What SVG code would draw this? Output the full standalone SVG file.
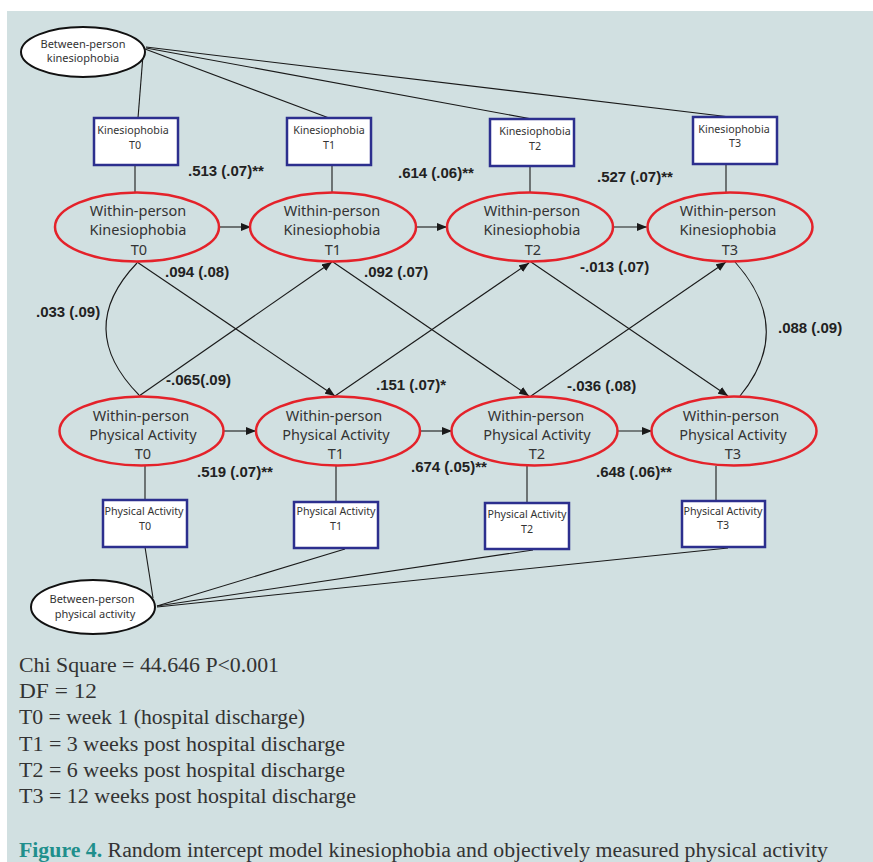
<svg xmlns="http://www.w3.org/2000/svg" width="873" height="862" viewBox="0 0 873 862">
  <style>
    .panel { fill: #d1e0e1; }
    .latent { fill: none; stroke: #e4222a; stroke-width: 2.5; }
    .between { fill: #ffffff; stroke: #111111; stroke-width: 2; }
    .obs { fill: #ffffff; stroke: #2c2f8e; stroke-width: 2.5; }
    .lbl { font-family: "Noto Sans", "Open Sans", sans-serif; fill: #333333; text-anchor: middle; }
    .big { font-size: 14.5px; }
    .small { font-size: 10.7px; }
    .coef { font-family: "Liberation Sans", Arial, sans-serif; font-weight: bold; font-size: 15px; fill: #222222; }
    .note { font-family: "Liberation Serif", "Times New Roman", serif; font-size: 20px; fill: #333333; }
    .edge { fill: none; stroke: #1a1a1a; stroke-width: 1.1; }
  </style>
  <defs>
    <marker id="arrow" viewBox="0 0 10 8" refX="10" refY="4" markerWidth="10" markerHeight="8" markerUnits="userSpaceOnUse" orient="auto">
      <path d="M0,0 L10,4 L0,8 Z" fill="#1a1a1a"/>
    </marker>
  </defs>

  <rect class="panel" x="7" y="11" width="866" height="851"/>

  <!-- connectors -->
  <g id="connectors">
    <!-- between-person kinesiophobia loadings -->
    <line class="edge" x1="143" y1="55" x2="138" y2="118"/>
    <line class="edge" x1="145" y1="49" x2="329" y2="118"/>
    <line class="edge" x1="146" y1="48" x2="532" y2="119"/>
    <line class="edge" x1="146" y1="47" x2="730" y2="117"/>
    <!-- kinesiophobia boxes to within-person factors -->
    <line class="edge" x1="135" y1="165" x2="135" y2="192"/>
    <line class="edge" x1="332" y1="165" x2="332" y2="192"/>
    <line class="edge" x1="530" y1="166" x2="530" y2="192"/>
    <line class="edge" x1="726" y1="164" x2="726" y2="192"/>
    <!-- autoregressive paths, kinesiophobia -->
    <line class="edge" x1="219" y1="227" x2="251" y2="227" marker-end="url(#arrow)"/>
    <line class="edge" x1="416" y1="227" x2="447" y2="227" marker-end="url(#arrow)"/>
    <line class="edge" x1="613" y1="227" x2="647" y2="227" marker-end="url(#arrow)"/>
    <!-- autoregressive paths, physical activity -->
    <line class="edge" x1="224" y1="431" x2="256" y2="431" marker-end="url(#arrow)"/>
    <line class="edge" x1="420" y1="431" x2="452" y2="431" marker-end="url(#arrow)"/>
    <line class="edge" x1="617" y1="431" x2="652" y2="431" marker-end="url(#arrow)"/>
    <!-- cross-lagged paths -->
    <line class="edge" x1="137" y1="262" x2="335" y2="396" marker-end="url(#arrow)"/>
    <line class="edge" x1="139" y1="396" x2="332" y2="262" marker-end="url(#arrow)"/>
    <line class="edge" x1="333" y1="262" x2="529" y2="396" marker-end="url(#arrow)"/>
    <line class="edge" x1="335" y1="396" x2="529" y2="263" marker-end="url(#arrow)"/>
    <line class="edge" x1="531" y1="262" x2="728" y2="396" marker-end="url(#arrow)"/>
    <line class="edge" x1="531" y1="396" x2="726" y2="262" marker-end="url(#arrow)"/>
    <!-- within-time covariances -->
    <path class="edge" d="M137,263 Q74,329 139,395"/>
    <path class="edge" d="M735,262 Q795,329 740,396"/>
    <!-- physical activity factors to boxes -->
    <line class="edge" x1="145" y1="466" x2="145" y2="500"/>
    <line class="edge" x1="336" y1="466" x2="336" y2="502"/>
    <line class="edge" x1="527" y1="466" x2="527" y2="503"/>
    <line class="edge" x1="716" y1="466" x2="716" y2="501"/>
    <!-- between-person physical activity loadings -->
    <line class="edge" x1="153" y1="598" x2="145" y2="547"/>
    <line class="edge" x1="157" y1="606" x2="345" y2="549"/>
    <line class="edge" x1="157" y1="606" x2="533" y2="550"/>
    <line class="edge" x1="157" y1="607" x2="728" y2="548"/>
  </g>

  <!-- between-person kinesiophobia -->
  <g id="between-kinesiophobia">
    <ellipse class="between" cx="83" cy="52" rx="62" ry="25"/>
    <text class="lbl" style="font-size:11px" x="83" y="48">Between-person</text>
    <text class="lbl" style="font-size:11px" x="83" y="62">kinesiophobia</text>
  </g>

  <!-- observed kinesiophobia -->
  <g id="kin-obs-t0">
    <rect class="obs" x="94" y="118" width="84" height="47"/>
    <text class="lbl small" x="133" y="134">Kinesiophobia</text>
    <text class="lbl small" x="135" y="149">T0</text>
  </g>
  <g id="kin-obs-t1">
    <rect class="obs" x="287" y="118" width="84" height="47"/>
    <text class="lbl small" x="329" y="134">Kinesiophobia</text>
    <text class="lbl small" x="329" y="149">T1</text>
  </g>
  <g id="kin-obs-t2">
    <rect class="obs" x="490" y="119" width="84" height="47"/>
    <text class="lbl small" x="535" y="135">Kinesiophobia</text>
    <text class="lbl small" x="535" y="150">T2</text>
  </g>
  <g id="kin-obs-t3">
    <rect class="obs" x="693" y="117" width="84" height="47"/>
    <text class="lbl small" x="734" y="133">Kinesiophobia</text>
    <text class="lbl small" x="735" y="147">T3</text>
  </g>

  <!-- within-person kinesiophobia -->
  <g id="kin-within-t0">
    <ellipse class="latent" cx="137" cy="227" rx="82" ry="34.5"/>
    <text class="lbl big" x="138" y="216">Within-person</text>
    <text class="lbl big" x="138" y="235">Kinesiophobia</text>
    <text class="lbl big" x="139" y="255">T0</text>
  </g>
  <g id="kin-within-t1">
    <ellipse class="latent" cx="333" cy="227" rx="83" ry="34.5"/>
    <text class="lbl big" x="332" y="216">Within-person</text>
    <text class="lbl big" x="332" y="235">Kinesiophobia</text>
    <text class="lbl big" x="333" y="255">T1</text>
  </g>
  <g id="kin-within-t2">
    <ellipse class="latent" cx="530" cy="227" rx="83" ry="34.5"/>
    <text class="lbl big" x="532" y="216">Within-person</text>
    <text class="lbl big" x="532" y="235">Kinesiophobia</text>
    <text class="lbl big" x="533" y="255">T2</text>
  </g>
  <g id="kin-within-t3">
    <ellipse class="latent" cx="730" cy="227" rx="82.5" ry="34.5"/>
    <text class="lbl big" x="728" y="216">Within-person</text>
    <text class="lbl big" x="728" y="235">Kinesiophobia</text>
    <text class="lbl big" x="730" y="255">T3</text>
  </g>

  <!-- within-person physical activity -->
  <g id="pa-within-t0">
    <ellipse class="latent" cx="141.5" cy="431" rx="82" ry="34.5"/>
    <text class="lbl big" x="141" y="421">Within-person</text>
    <text class="lbl big" x="143" y="440">Physical Activity</text>
    <text class="lbl big" x="143" y="459">T0</text>
  </g>
  <g id="pa-within-t1">
    <ellipse class="latent" cx="338" cy="431" rx="82" ry="34.5"/>
    <text class="lbl big" x="334" y="421">Within-person</text>
    <text class="lbl big" x="336" y="440">Physical Activity</text>
    <text class="lbl big" x="336" y="459">T1</text>
  </g>
  <g id="pa-within-t2">
    <ellipse class="latent" cx="534.5" cy="431" rx="83" ry="34.5"/>
    <text class="lbl big" x="536" y="421">Within-person</text>
    <text class="lbl big" x="537" y="440">Physical Activity</text>
    <text class="lbl big" x="537" y="459">T2</text>
  </g>
  <g id="pa-within-t3">
    <ellipse class="latent" cx="734" cy="431" rx="82.5" ry="34.5"/>
    <text class="lbl big" x="731" y="421">Within-person</text>
    <text class="lbl big" x="733" y="440">Physical Activity</text>
    <text class="lbl big" x="733" y="459">T3</text>
  </g>

  <!-- observed physical activity -->
  <g id="pa-obs-t0">
    <rect class="obs" x="103" y="500" width="84" height="47"/>
    <text class="lbl small" x="144" y="515">Physical Activity</text>
    <text class="lbl small" x="145" y="530">T0</text>
  </g>
  <g id="pa-obs-t1">
    <rect class="obs" x="294" y="502" width="84" height="46"/>
    <text class="lbl small" x="336" y="515">Physical Activity</text>
    <text class="lbl small" x="336" y="530">T1</text>
  </g>
  <g id="pa-obs-t2">
    <rect class="obs" x="485" y="503" width="84" height="46"/>
    <text class="lbl small" x="527" y="518">Physical Activity</text>
    <text class="lbl small" x="527" y="533">T2</text>
  </g>
  <g id="pa-obs-t3">
    <rect class="obs" x="682" y="501" width="83" height="46"/>
    <text class="lbl small" x="723" y="515">Physical Activity</text>
    <text class="lbl small" x="723" y="529">T3</text>
  </g>

  <!-- between-person physical activity -->
  <g id="between-activity">
    <ellipse class="between" cx="93" cy="607" rx="62" ry="27"/>
    <text class="lbl" style="font-size:11px" x="92" y="603">Between-person</text>
    <text class="lbl" style="font-size:11px" x="95" y="618">physical activity</text>
  </g>

  <!-- path estimates -->
  <g id="estimates">
    <text class="coef" x="188" y="176">.513 (.07)**</text>
    <text class="coef" x="398" y="178">.614 (.06)**</text>
    <text class="coef" x="597" y="182">.527 (.07)**</text>
    <text class="coef" x="165" y="277">.094 (.08)</text>
    <text class="coef" x="364" y="277">.092 (.07)</text>
    <text class="coef" x="580" y="272">-.013 (.07)</text>
    <text class="coef" x="36" y="317">.033 (.09)</text>
    <text class="coef" x="778" y="333">.088 (.09)</text>
    <text class="coef" x="166" y="385">-.065(.09)</text>
    <text class="coef" x="376" y="390">.151 (.07)*</text>
    <text class="coef" x="567" y="391">-.036 (.08)</text>
    <text class="coef" x="197" y="477">.519 (.07)**</text>
    <text class="coef" x="411" y="472">.674 (.05)**</text>
    <text class="coef" x="596" y="477">.648 (.06)**</text>
  </g>

  <!-- model notes -->
  <g id="notes">
    <text class="note" x="19" y="672" textLength="260" lengthAdjust="spacingAndGlyphs">Chi Square = 44.646 P&lt;0.001</text>
    <text class="note" x="19" y="698" textLength="78" lengthAdjust="spacingAndGlyphs">DF = 12</text>
    <text class="note" x="19" y="724" textLength="286" lengthAdjust="spacingAndGlyphs">T0 = week 1 (hospital discharge)</text>
    <text class="note" x="19" y="751" textLength="326" lengthAdjust="spacingAndGlyphs">T1 = 3 weeks post hospital discharge</text>
    <text class="note" x="19" y="777" textLength="326" lengthAdjust="spacingAndGlyphs">T2 = 6 weeks post hospital discharge</text>
    <text class="note" x="19" y="803" textLength="337" lengthAdjust="spacingAndGlyphs">T3 = 12 weeks post hospital discharge</text>
    <text class="note" x="19" y="857" textLength="809" lengthAdjust="spacingAndGlyphs"><tspan fill="#1f8f8c" font-weight="bold">Figure 4.</tspan> Random intercept model kinesiophobia and objectively measured physical activity</text>
  </g>
</svg>
